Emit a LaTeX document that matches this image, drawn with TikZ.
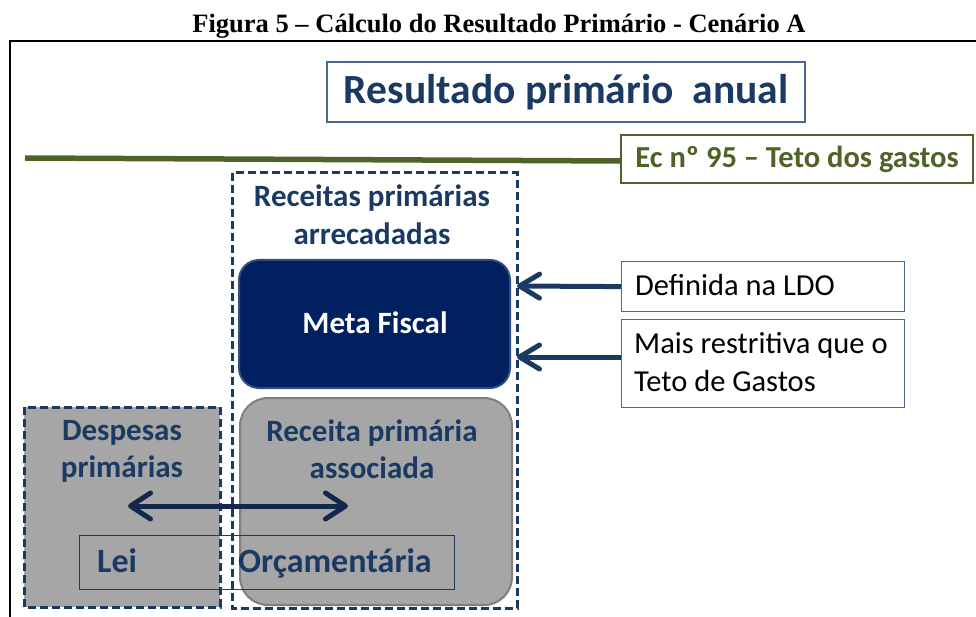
\documentclass[tikz,border=0pt]{standalone}
\usepackage{fontspec}
\setmainfont{Carlito}
\newfontfamily\timesf{Liberation Serif}
\usetikzlibrary{arrows.meta}
\definecolor{navy}{HTML}{1B3A63}
\definecolor{darknavy}{HTML}{14284B}
\definecolor{navyfill}{HTML}{002060}
\definecolor{navyedge}{HTML}{2E4F80}
\definecolor{olive}{HTML}{4F6228}
\definecolor{grayfill}{HTML}{A6A6A6}
\definecolor{grayedge}{HTML}{7F7F7F}
\definecolor{boxedge}{HTML}{4A6A94}
\tikzset{
  mybarb/.tip={Straight Barb[length=20pt,width=24pt,line width=5pt,round]},
  bigbarb/.tip={Straight Barb[length=20pt,width=26pt,line width=5pt,round]},
  dashbox/.style={draw=navy, line width=3pt, dash pattern=on 8pt off 4pt},
  bluetext/.style={text=navy, font=\bfseries\fontsize{31}{37}\selectfont, anchor=base, inner sep=0pt},
  blacktext/.style={text=black, font=\fontsize{30.5}{37}\selectfont, anchor=base west, inner sep=0pt},
  arr/.style={draw=navy, line width=5pt, -mybarb},
  notebox/.style={draw=boxedge, line width=1.2pt, anchor=north west}
}
\begin{document}
\begin{tikzpicture}[x=1pt,y=-1pt]
\useasboundingbox (0,0) rectangle (976,617);
% caption
\node[font=\timesf\bfseries\fontsize{26.5}{30}\selectfont, anchor=base, inner sep=0pt] (cap) at (499,33) {Figura 5 – Cálculo do Resultado Primário - Cenário A};
% frame
\draw[line width=2pt] (10,617) -- (10,41) -- (976,41);
% top title box
\node[draw=boxedge, line width=1.2pt, minimum width=478pt, minimum height=60pt] (res) at (566,92) {};
\node[text=navy, font=\bfseries\fontsize{41.5}{48}\selectfont, anchor=base, inner sep=0pt] (rest) at (566,104) {Resultado primário\ \ anual};
% green line and box
\coordinate (gl) at (25,158);
\node[draw=olive, line width=1.2pt, fill=white, minimum width=352pt, minimum height=48pt] (ec) at (797,159) {};
\node[text=olive, font=\bfseries\fontsize{30.5}{36}\selectfont, anchor=base, inner sep=0pt] (ect) at (797,168) {Ec nº 95 – Teto dos gastos};
\draw[olive, line width=5.5pt] (gl) -- (ec.west |- 0,161);
% Receitas dashed box
\draw[dashbox] (232,173) rectangle (517,608);
\node[bluetext] (rec1) at (372,207) {Receitas primárias};
\node[bluetext] (rec2) at (372,245) {arrecadadas};
% Meta Fiscal
\draw[fill=navyfill, draw=navyedge, line width=2pt, rounded corners=20pt] (239,260) rectangle (510,388);
\node[text=white, font=\bfseries\fontsize{31}{37}\selectfont, anchor=base, inner sep=0pt] (meta) at (375,333) {Meta Fiscal};
\coordinate (metaR) at (517,286);
\coordinate (metaR2) at (517,357);
% Despesas dashed box
\draw[dashbox, fill=grayfill] (24,407) rectangle (220,607);
\node[bluetext] (desp1) at (122,440) {Despesas};
\node[bluetext] (desp2) at (122,477) {primárias};
% Receita associada
\draw[fill=grayfill, draw=grayedge, line width=2pt, rounded corners=28pt] (240,398) rectangle (512,605);
\node[bluetext] (assoc1) at (372,441) {Receita primária};
\node[bluetext] (assoc2) at (372,478) {associada};
% right note boxes
\node[notebox, minimum width=283pt, minimum height=50pt] (ldo) at (621,261) {};
\node[blacktext] (ldot) at (635,296) {Definida na LDO};
\node[notebox, minimum width=283pt, minimum height=88pt] (mais) at (621,319) {};
\node[blacktext] (mais1) at (634,353) {Mais restritiva que o};
\node[blacktext] (mais2) at (634,391) {Teto de Gastos};
% arrows
\draw[arr] (ldo.west) -- (metaR);
\draw[arr] (mais.west |- metaR2) -- (metaR2);
% double arrow
\coordinate (dl) at (128,506);
\coordinate (dr) at (348,506);
\draw[draw=darknavy, line width=5pt, bigbarb-bigbarb] (dl) -- (dr);
% Lei Orcamentaria
\draw[draw=navy, line width=1pt] (79,535) rectangle (454,589);
\node[text=navy, font=\bfseries\fontsize{34}{40}\selectfont, anchor=base west, inner sep=0pt] (lei) at (97,572) {Lei};
\node[text=navy, font=\bfseries\fontsize{34}{40}\selectfont, anchor=base west, inner sep=0pt] (orc) at (238,572) {Orçamentária};
\end{tikzpicture}
\end{document}
